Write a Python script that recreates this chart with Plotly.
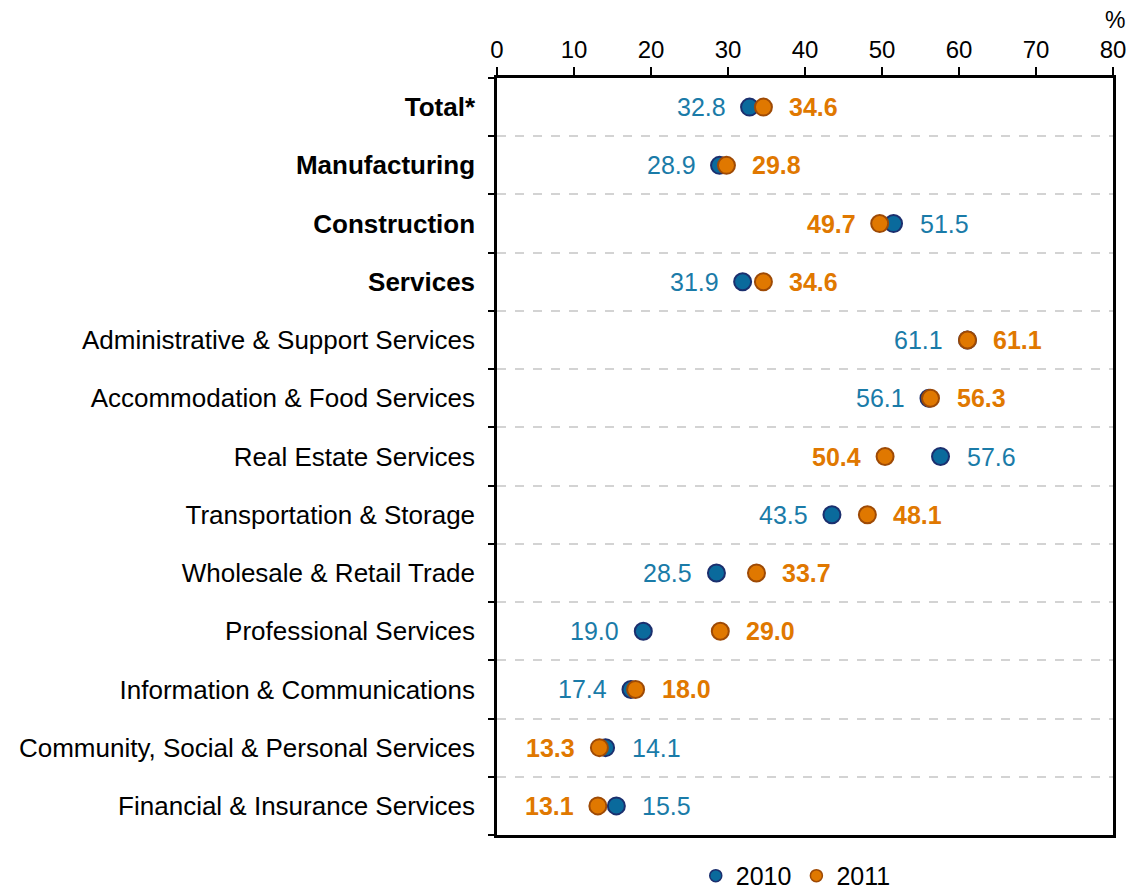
import plotly.graph_objects as go

categories = [
    "Total*", "Manufacturing", "Construction", "Services",
    "Administrative & Support Services", "Accommodation & Food Services",
    "Real Estate Services", "Transportation & Storage", "Wholesale & Retail Trade",
    "Professional Services", "Information & Communications",
    "Community, Social & Personal Services", "Financial & Insurance Services",
]
bold_rows = ["Total*", "Manufacturing", "Construction", "Services"]
v2010 = [32.8, 28.9, 51.5, 31.9, 61.1, 56.1, 57.6, 43.5, 28.5, 19.0, 17.4, 14.1, 15.5]
v2011 = [34.6, 29.8, 49.7, 34.6, 61.1, 56.3, 50.4, 48.1, 33.7, 29.0, 18.0, 13.3, 13.1]
series_names = ["2010", "2011"]
x_ticks = [0, 10, 20, 30, 40, 50, 60, 70, 80]

BLUE_FILL = "#0A6A9C"
BLUE_LINE = "#1B2F6E"
BLUE_TEXT = "#1A7BA8"
ORANGE_FILL = "#E07800"
ORANGE_LINE = "#9E4A05"
ORANGE_TEXT = "#E07800"
FONT = "Liberation Sans, Arial, sans-serif"

fills = [BLUE_FILL, ORANGE_FILL]
lines = [BLUE_LINE, ORANGE_LINE]

fig = go.Figure()
for name, vals, fc, lc in zip(series_names, [v2010, v2011], fills, lines):
    fig.add_trace(go.Scatter(
        x=vals, y=categories, mode="markers", name=name, showlegend=False,
        marker=dict(size=17, color=fc, line=dict(color=lc, width=2)),
    ))
# legend entries with smaller symbols
for name, fc, lc in zip(series_names, fills, lines):
    fig.add_trace(go.Scatter(
        x=[None], y=[None], mode="markers", name=name, showlegend=True,
        marker=dict(size=12, color=fc, line=dict(color=lc, width=1.5)),
    ))

annotations = []
for cat, a, b in zip(categories, v2010, v2011):
    items = [(a, f"{a:.1f}", BLUE_TEXT), (b, f"<b>{b:.1f}</b>", ORANGE_TEXT)]
    if b < a:
        left, right = items[1], items[0]
    else:
        left, right = items[0], items[1]
    annotations.append(dict(x=left[0], y=cat, xref="x", yref="y", text=left[1],
                            showarrow=False, xanchor="right", xshift=-22,
                            font=dict(size=25, color=left[2], family=FONT)))
    annotations.append(dict(x=right[0], y=cat, xref="x", yref="y", text=right[1],
                            showarrow=False, xanchor="left", xshift=24,
                            font=dict(size=25, color=right[2], family=FONT)))
annotations.append(dict(x=1, y=1, xref="paper", yref="paper", text="%", showarrow=False,
                        xanchor="center", yanchor="bottom", yshift=43, xshift=2,
                        font=dict(size=23, color="black", family=FONT)))

ticktext = [f"<b>{c}</b>" if c in bold_rows else c for c in categories]

fig.update_layout(
    width=1127, height=882,
    margin=dict(l=489, r=22, t=70, b=55, autoexpand=False),
    paper_bgcolor="white", plot_bgcolor="white",
    font=dict(family=FONT, color="black", size=24),
    annotations=annotations,
    showlegend=True,
    legend=dict(orientation="h", x=0.485, xanchor="center", y=-0.054, yanchor="middle",
                font=dict(size=25, color="black"), itemwidth=30, tracegroupgap=0,
                bgcolor="rgba(0,0,0,0)"),
    xaxis=dict(side="top", range=[0, 80], tickvals=x_ticks, ticks="outside", ticklen=8,
               tickwidth=2, tickcolor="black", showline=True, linewidth=2.5,
               linecolor="black", mirror=True, showgrid=False, zeroline=False,
               tickfont=dict(size=24, color="black")),
    yaxis=dict(categoryorder="array", categoryarray=categories,
               range=[len(categories) - 0.5, -0.5], autorange=False,
               tickmode="array", tickvals=categories, ticktext=ticktext,
               tickson="boundaries", ticks="outside", ticklen=6, tickwidth=2,
               tickcolor="black", showline=True, linewidth=2.5, linecolor="black",
               mirror=True, showgrid=True, gridcolor="#D3D3D3", griddash="dash",
               gridwidth=1.5, ticklabelstandoff=14,
               tickfont=dict(size=26, color="black")),
)

fig.write_html("out.html")
